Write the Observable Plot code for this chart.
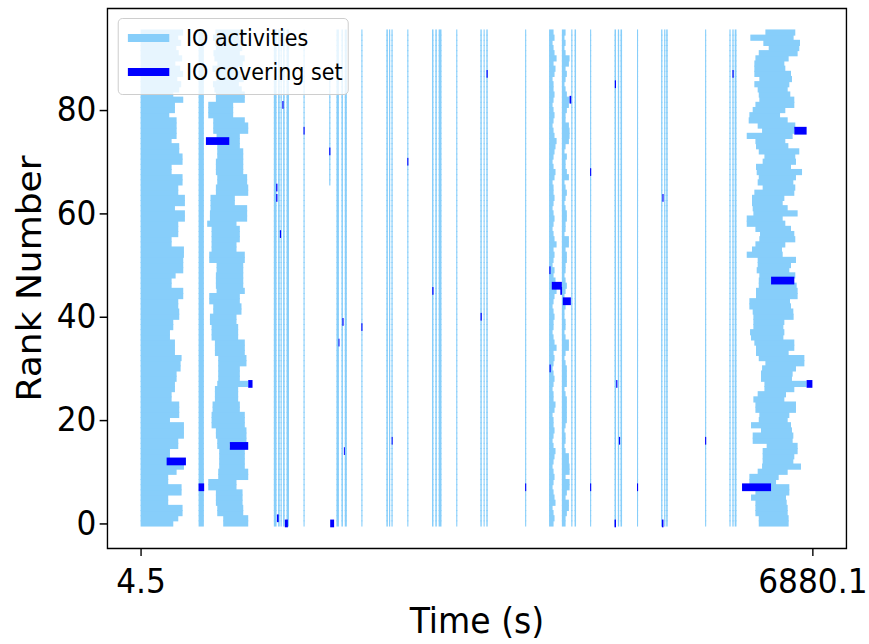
<!DOCTYPE html>
<html><head><meta charset="utf-8">
<script src="https://cdn.jsdelivr.net/npm/d3@7"></script>
<script src="https://cdn.jsdelivr.net/npm/@observablehq/plot@0.6"></script>
<style>
html,body{margin:0;padding:0;background:#fff;overflow:hidden}
#wrap{position:relative;width:869px;height:644px;overflow:hidden;background:#fff}
#inner{position:absolute;left:0;top:0;transform-origin:0 0}
#legend{position:absolute;border:1.5px solid #cccccc;border-radius:5px;background:rgba(255,255,255,0.8);box-sizing:border-box;font-family:'DejaVu Sans',sans-serif;color:#000}
#legend .sw{position:absolute;height:8px}
#legend .lb{position:absolute;font-size:22.5px;line-height:26px;white-space:nowrap}
</style></head><body>
<div id="wrap"><div id="inner"></div></div>
<script>
// ---------------- data (seconds / rank numbers) ----------------
const ranks = d3.range(96);
const xTicks = [4.5, 6880.1];
const yTicks = [0, 20, 40, 60, 80];
const legendLabels = ["IO activities", "IO covering set"];

const band1Start = 4.5;
const band1End = [
  339, 390, 434, 434, 287, 287, 424, 424, 287, 287,
  373, 448, 468, 305, 305, 390, 390, 448, 448, 448,
  305, 400, 400, 400, 322, 322, 356, 356, 373, 373,
  414, 414, 424, 356, 356, 356, 305, 305, 339, 339,
  400, 400, 390, 390, 441, 441, 322, 322, 363, 441,
  441, 441, 448, 448, 322, 322, 390, 390, 390, 458,
  458, 356, 458, 458, 390, 390, 434, 434, 322, 322,
  434, 434, 400, 400, 322, 373, 373, 373, 373, 298,
  356, 356, 441, 339, 400, 420, 380, 440, 410, 360,
  430, 395, 370, 420, 390, 440];

const band2Start = [
  850, 850, 789, 789, 775, 775, 775, 697, 697, 799,
  799, 809, 809, 809, 809, 789, 789, 775, 775, 731,
  731, 731, 741, 741, 765, 765, 765, 789, 799, 799,
  799, 799, 799, 765, 765, 765, 731, 731, 731, 714,
  714, 748, 748, 707, 707, 782, 775, 775, 775, 782,
  782, 707, 707, 731, 731, 731, 731, 731, 686, 714,
  714, 720, 720, 720, 775, 775, 789, 789, 775, 775,
  775, 789, 789, 789, 782, 782, 748, 748, 748, 697,
  697, 697, 775, 775, 760, 745, 780, 770, 740, 790,
  760, 750, 775, 765, 745, 770];
const band2End = [
  1106, 1106, 1055, 1055, 1048, 1048, 1048, 986, 986, 1106,
  1106, 1071, 1071, 1071, 1071, 918, 1088, 1088, 1088, 1071,
  1071, 1071, 1020, 1020, 1003, 1003, 1003, 1106, 1020, 1020,
  1020, 1088, 1088, 1071, 1071, 1071, 1003, 1003, 1003, 986,
  986, 1037, 1037, 1020, 1020, 1071, 1055, 1055, 1055, 1055,
  1055, 1071, 1071, 986, 986, 1020, 1020, 1020, 986, 1095,
  1095, 1095, 969, 969, 1106, 1106, 1095, 1095, 1055, 1055,
  1055, 1055, 1055, 1020, 1020, 1020, 1106, 1106, 1071, 952,
  952, 952, 1071, 1071, 1040, 1010, 1060, 1030, 1000, 1050,
  1070, 1020, 1045, 1060, 1015, 1040];

const midLeftStart = 4185;
const midLeftEnd = [
  4231, 4241, 4231, 4221, 4251, 4241, 4231, 4221, 4231, 4241,
  4231, 4221, 4231, 4241, 4251, 4231, 4221, 4231, 4241, 4231,
  4231, 4221, 4241, 4251, 4231, 4231, 4221, 4231, 4241, 4231,
  4221, 4231, 4241, 4231, 4262, 4241, 4231, 4221, 4231, 4231,
  4241, 4231, 4221, 4231, 4241, 4262, 4241, 4251, 4231, 4241,
  4221, 4231, 4241, 4231, 4262, 4241, 4231, 4221, 4231, 4241,
  4231, 4221, 4231, 4241, 4231, 4231, 4221, 4241, 4251, 4231,
  4221, 4231, 4241, 4251, 4262, 4241, 4231, 4221, 4231, 4241,
  4231, 4221, 4231, 4241, 4231, 4231, 4221, 4241, 4251, 4231,
  4262, 4241, 4231, 4221, 4241, 4231];
const midRightStart = 4316;
const midRightEnd = [
  4354, 4354, 4367, 4388, 4388, 4354, 4367, 4395, 4395, 4354,
  4395, 4395, 4388, 4388, 4354, 4343, 4354, 4354, 4343, 4354,
  4367, 4367, 4367, 4367, 4367, 4354, 4343, 4367, 4367, 4367,
  4367, 4354, 4343, 4354, 4388, 4388, 4354, 4343, 4354, 4354,
  4343, 4343, 4354, 4395, 4343, 4354, 4367, 4354, 4343, 4354,
  4354, 4367, 4367, 4354, 4388, 4388, 4343, 4354, 4354, 4367,
  4367, 4354, 4343, 4354, 4367, 4354, 4343, 4388, 4367, 4354,
  4354, 4367, 4343, 4354, 4388, 4395, 4395, 4388, 4354, 4354,
  4367, 4388, 4395, 4367, 4354, 4343, 4354, 4367, 4354, 4388,
  4395, 4354, 4343, 4354, 4343, 4354];

const band3Start = [
  6331, 6331, 6297, 6297, 6297, 6252, 6297, 6457, 6235, 6235,
  6320, 6365, 6371, 6371, 6371, 6412, 6269, 6269, 6354, 6252,
  6331, 6337, 6297, 6297, 6276, 6320, 6389, 6389, 6354, 6354,
  6365, 6399, 6331, 6303, 6303, 6286, 6252, 6242, 6276, 6276,
  6276, 6269, 6235, 6235, 6303, 6303, 6331, 6331, 6337, 6310,
  6320, 6320, 6208, 6262, 6297, 6337, 6344, 6297, 6208, 6208,
  6276, 6269, 6262, 6262, 6286, 6371, 6320, 6331, 6310, 6303,
  6371, 6389, 6331, 6303, 6297, 6208, 6365, 6320, 6228, 6235,
  6269, 6297, 6337, 6331, 6320, 6286, 6337, 6286, 6286, 6286,
  6297, 6331, 6433, 6378, 6245, 6399];
const band3End = [
  6637, 6637, 6627, 6627, 6617, 6610, 6644, 6644, 6508, 6535,
  6627, 6763, 6685, 6695, 6729, 6729, 6678, 6685, 6671, 6661,
  6627, 6644, 6712, 6712, 6593, 6610, 6695, 6821, 6671, 6678,
  6712, 6798, 6798, 6637, 6695, 6695, 6583, 6593, 6583, 6593,
  6688, 6685, 6661, 6651, 6729, 6729, 6719, 6457, 6705, 6644,
  6661, 6712, 6576, 6569, 6603, 6705, 6695, 6661, 6603, 6576,
  6729, 6627, 6576, 6593, 6695, 6705, 6685, 6712, 6774, 6661,
  6712, 6705, 6746, 6634, 6603, 6678, 6695, 6705, 6627, 6549,
  6603, 6695, 6695, 6654, 6627, 6644, 6671, 6661, 6603, 6593,
  6637, 6729, 6746, 6753, 6688, 6705];

// short IO bursts that every rank performs (start, end in seconds)
const burstStart = [598, 1368, 1412, 1437, 1463, 1498, 1672, 2009, 2060, 2094, 2264, 2520, 2547, 2572, 2734,
  2987, 3021, 3055, 3235, 3482, 3515, 3543, 3940, 4412, 4446, 4605, 4855, 4889, 4916, 5085,
  5332, 5363, 5384, 5782, 6031, 6061, 6085];
const burstEnd = [652, 1396, 1428, 1449, 1479, 1523, 1683, 2034, 2075, 2115, 2275, 2535, 2559, 2584, 2745,
  3002, 3036, 3084, 3246, 3496, 3526, 3557, 3951, 4424, 4461, 4616, 4870, 4902, 4932, 5096,
  5345, 5375, 5399, 5793, 6043, 6074, 6103];
// bursts done by a subset of ranks
const partStart = [1935];
const partEnd = [1947];
const partFrom = [66];
const partTo = [86];

// IO covering set
const covRank = [12, 7, 74, 15, 27, 46, 43, 45, 76, 47, 27, 7, 0,
  1, 0, 63, 65, 56, 81, 76, 72, 35, 14, 39, 38, 16, 70, 45, 87, 40, 7, 49, 30, 82, 85, 27, 16, 0, 68, 7, 7, 63, 0, 16, 87];
const covStart = [271, 598, 673, 918, 1106, 4213, 4326, 4300, 6695, 6457, 6821, 6160, 1945,
  1400, 1481, 1392, 1392, 1430, 1455, 1672, 1935, 2030, 2085, 2070, 2264, 2574, 2734, 2990, 3545, 3484, 3940, 4188, 4190, 4395, 4858, 4872, 4900, 4855, 4605, 4605, 5085, 5345, 5340, 5782, 6062];
const covEnd = [468, 655, 912, 1106, 1150, 4316, 4408, 4318, 6821, 6695, 6880.1, 6457, 1985,
  1418, 1512, 1405, 1405, 1442, 1467, 1683, 1947, 2040, 2095, 2082, 2275, 2584, 2745, 3002, 3557, 3496, 3951, 4200, 4202, 4412, 4870, 4884, 4912, 4870, 4616, 4616, 5096, 5357, 5356, 5793, 6074];

// ---------------- build tables ----------------
const activities = [];
ranks.forEach((r, i) => {
  activities.push({rank: r, start: band1Start, end: band1End[i]});
  activities.push({rank: r, start: band2Start[i], end: band2End[i]});
  activities.push({rank: r, start: midLeftStart, end: midLeftEnd[i]});
  activities.push({rank: r, start: midRightStart, end: midRightEnd[i]});
  activities.push({rank: r, start: band3Start[i], end: band3End[i]});
  burstStart.forEach((s, j) => activities.push({rank: r, start: s, end: burstEnd[j]}));
  partStart.forEach((s, j) => { if (r >= partFrom[j] && r <= partTo[j]) activities.push({rank: r, start: s, end: partEnd[j]}); });
});
const covering = covRank.map((r, i) => ({rank: r, start: covStart[i], end: covEnd[i]}));

// ---------------- draw ----------------
const SX = 0.92; // horizontal squeeze of the original figure
const W = 869 / SX;
const H = 0.6;   // half height of an activity bar (rank units)
const HC = 0.75; // half height of a covering-set bar

const chart = Plot.plot({
  width: W, height: 644,
  marginLeft: 107 / SX, marginRight: 23 / SX, marginTop: 8, marginBottom: 96,
  x: {domain: [-339.3, 7223.9], label: null},
  y: {domain: [-4.75, 99.75], label: null},
  style: {fontFamily: "'DejaVu Sans', sans-serif", fontSize: "34px", color: "black", background: "white"},
  marks: [
    Plot.rect(activities, {x1: "start", x2: "end", y1: d => d.rank - H, y2: d => d.rank + H, fill: "#87CEFA"}),
    Plot.rect(covering, {x1: "start", x2: "end", y1: d => d.rank - HC, y2: d => d.rank + HC, fill: "#0000FF"}),
    Plot.frame({stroke: "black", strokeWidth: 1.5}),
    Plot.axisY({ticks: yTicks, tickSize: 8, tickPadding: 4, label: null, fontSize: 34, strokeWidth: 1.5, tickFormat: d => String(d)}),
    Plot.axisX({ticks: xTicks, tickSize: 8, tickPadding: 12, label: null, fontSize: 34, strokeWidth: 1.5, tickFormat: d => String(d)}),
    Plot.text(["Rank Number"], {text: d => d, frameAnchor: "left", textAnchor: "middle", dx: (30 - 107) / SX, rotate: -90, fontSize: 36}),
    Plot.text(["Time (s)"], {text: d => d, frameAnchor: "bottom", textAnchor: "middle", dy: 85, fontSize: 36})
  ]
});

const inner = document.getElementById("inner");
inner.style.width = W + "px";
inner.style.height = "644px";
inner.style.transform = `scaleX(${SX})`;
inner.appendChild(chart);

// legend
const lg = document.createElement("div");
lg.id = "legend";
lg.style.left = (118 / SX) + "px";
lg.style.top = "18px";
lg.style.width = (231 / SX) + "px";
lg.style.height = "77px";
const legendColors = ["#87CEFA", "#0000FF"];
legendLabels.forEach((t, i) => {
  const sw = document.createElement("div");
  sw.className = "sw";
  sw.style.left = (9 / SX) + "px";
  sw.style.top = (15 + i * 34) + "px";
  sw.style.width = (41 / SX) + "px";
  sw.style.background = legendColors[i];
  lg.appendChild(sw);
  const lb = document.createElement("div");
  lb.className = "lb";
  lb.style.left = (67 / SX) + "px";
  lb.style.top = (6 + i * 34) + "px";
  lb.textContent = t;
  lg.appendChild(lb);
});
inner.appendChild(lg);
</script>
</body></html>
